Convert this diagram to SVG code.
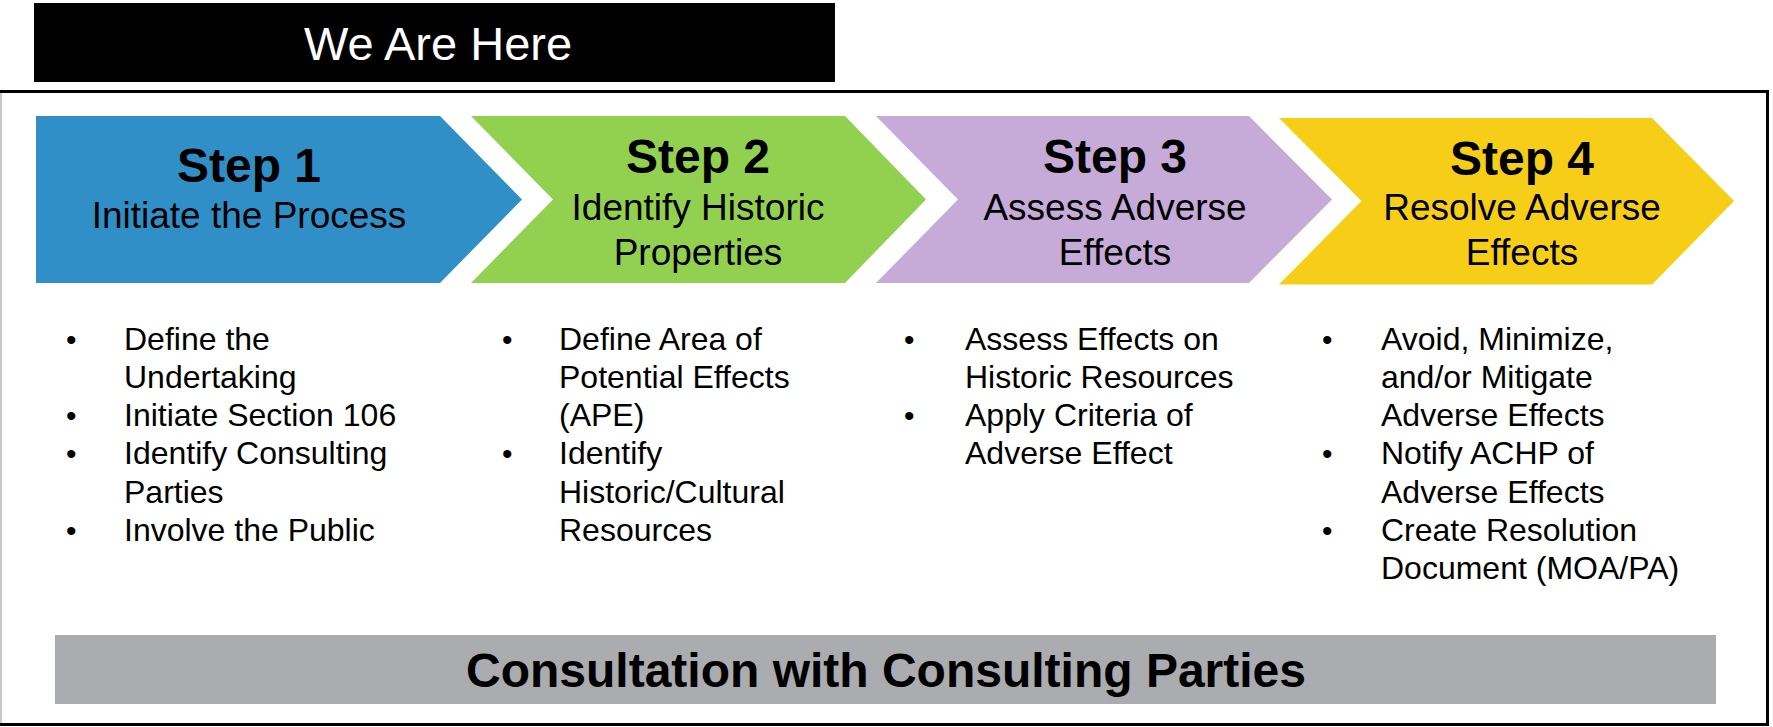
<svg xmlns="http://www.w3.org/2000/svg" width="1773" height="727" viewBox="0 0 1773 727">
<style>
.title{font-family:"Liberation Sans",Arial,sans-serif;font-weight:bold;font-size:48px;fill:#000;text-anchor:middle}
.sub{font-family:"Liberation Sans",Arial,sans-serif;font-size:37px;fill:#000;text-anchor:middle}
.li{font-family:"Liberation Sans",Arial,sans-serif;font-size:32px;fill:#000}
.bul{font-family:"Liberation Sans",Arial,sans-serif;font-size:30px;fill:#000}
</style>
<rect width="1773" height="727" fill="#fff"/>
<g id="frame">
<line x1="1" y1="91" x2="1" y2="725" stroke="#c8c8c8" stroke-width="2"/>
<path d="M0 91.5 H1767.5 V724.5 H0" fill="none" stroke="#000" stroke-width="3"/>
</g>
<g id="we-are-here">
<rect x="34" y="3" width="801" height="79" fill="#000"/>
<text x="438" y="60" font-family="'Liberation Sans',Arial,sans-serif" font-size="47" fill="#fff" text-anchor="middle">We Are Here</text>
</g>
<g id="connectors"></g>
<g id="step1">
<polygon points="36,116 440,116 522,199.5 440,283 36,283" fill="#318FC8"/>
<text class="title" x="249" y="182">Step 1</text>
<text class="sub" x="249" y="228">Initiate the Process</text>
</g>
<g id="step2">
<polygon points="471,116 845,116 926,199.5 845,283 471,283 553,199.5" fill="#92D050"/>
<text class="title" x="698" y="173">Step 2</text>
<text class="sub" x="698" y="220">Identify Historic</text>
<text class="sub" x="698" y="265">Properties</text>
</g>
<g id="step3">
<polygon points="876,116 1249,116 1332,199.5 1249,283 876,283 958,199.5" fill="#C6AAD8"/>
<text class="title" x="1115" y="173">Step 3</text>
<text class="sub" x="1115" y="220">Assess Adverse</text>
<text class="sub" x="1115" y="265">Effects</text>
</g>
<g id="step4">
<polygon points="1279,118 1652,118 1734,201 1652,284.5 1279,284.5 1361.5,201" fill="#F6CE18"/>
<text class="title" x="1522" y="175">Step 4</text>
<text class="sub" x="1522" y="220">Resolve Adverse</text>
<text class="sub" x="1522" y="265">Effects</text>
</g>
<g id="list1">
<text class="bul" x="66" y="350">•</text>
<text class="bul" x="66" y="426">•</text>
<text class="bul" x="66" y="464">•</text>
<text class="bul" x="66" y="541">•</text>
<text class="li" x="124" y="350">Define the</text>
<text class="li" x="124" y="388">Undertaking</text>
<text class="li" x="124" y="426">Initiate Section 106</text>
<text class="li" x="124" y="464">Identify Consulting</text>
<text class="li" x="124" y="503">Parties</text>
<text class="li" x="124" y="541">Involve the Public</text>
</g>
<g id="list2">
<text class="bul" x="502" y="350">•</text>
<text class="bul" x="502" y="464">•</text>
<text class="li" x="559" y="350">Define Area of</text>
<text class="li" x="559" y="388">Potential Effects</text>
<text class="li" x="559" y="426">(APE)</text>
<text class="li" x="559" y="464">Identify</text>
<text class="li" x="559" y="503">Historic/Cultural</text>
<text class="li" x="559" y="541">Resources</text>
</g>
<g id="list3">
<text class="bul" x="904" y="350">•</text>
<text class="bul" x="904" y="426">•</text>
<text class="li" x="965" y="350">Assess Effects on</text>
<text class="li" x="965" y="388">Historic Resources</text>
<text class="li" x="965" y="426">Apply Criteria of</text>
<text class="li" x="965" y="464">Adverse Effect</text>
</g>
<g id="list4">
<text class="bul" x="1322" y="350">•</text>
<text class="bul" x="1322" y="464">•</text>
<text class="bul" x="1322" y="541">•</text>
<text class="li" x="1381" y="350">Avoid, Minimize,</text>
<text class="li" x="1381" y="388">and/or Mitigate</text>
<text class="li" x="1381" y="426">Adverse Effects</text>
<text class="li" x="1381" y="464">Notify ACHP of</text>
<text class="li" x="1381" y="503">Adverse Effects</text>
<text class="li" x="1381" y="541">Create Resolution</text>
<text class="li" x="1381" y="579">Document (MOA/PA)</text>
</g>
<g id="consultation">
<rect x="55" y="635" width="1661" height="69" fill="#AAACAF"/>
<text class="title" x="886" y="687">Consultation with Consulting Parties</text>
</g>
</svg>
